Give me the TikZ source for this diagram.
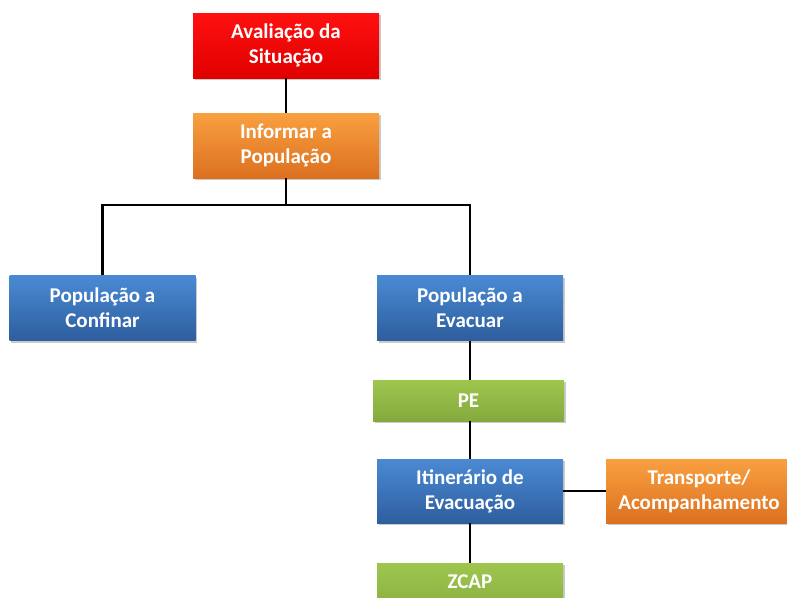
\documentclass[tikz,border=0pt]{standalone}
\usepackage{fontspec}
\setmainfont{Carlito}
\usetikzlibrary{shadows}
\definecolor{redT}{HTML}{FF1010}
\definecolor{redB}{HTML}{E00000}
\definecolor{orT}{HTML}{F9A040}
\definecolor{orB}{HTML}{DC7020}
\definecolor{blT}{HTML}{4A8AD4}
\definecolor{blB}{HTML}{2E5E9E}
\definecolor{grT}{HTML}{9EC64E}
\definecolor{grB}{HTML}{84AA3E}
\tikzset{
  box/.style={rectangle, minimum width=186pt, minimum height=65pt, inner sep=0pt,
    align=center, text=white, font=\bfseries\fontsize{21}{25}\selectfont,
    drop shadow={shadow xshift=1.5pt, shadow yshift=-2pt, opacity=0.35, fill=black!60}},
  redbox/.style={box, top color=redT, bottom color=redB},
  orbox/.style={box, top color=orT, bottom color=orB},
  blbox/.style={box, top color=blT, bottom color=blB},
  grbox/.style={box, top color=grT, bottom color=grB},
  conn/.style={draw=black, line width=2.3pt}
}
\begin{document}
\begin{tikzpicture}[x=1pt,y=-1pt]
\useasboundingbox (0,0) rectangle (787,597);
\clip (0,0) rectangle (787,597);
\node[redbox] (aval) at (286,45.5) {Avaliação da\\Situação};
\node[orbox] (info) at (286,145.5) {Informar a\\População};
\node[blbox] (conf) at (102.5,308) {População a\\Confinar};
\node[blbox] (evac) at (470,308) {População a\\Evacuar};
\node[grbox, minimum width=191pt, minimum height=41pt] (pe) at (468.5,400.5) {PE};
\node[blbox, minimum height=64pt] (itin) at (470,491) {Itinerário de\\Evacuação};
\node[orbox, minimum height=64pt] (trans) at (699,491) {Transporte/\\Acompanhamento};
\node[grbox, minimum height=60pt] (zcap) at (470,593) {};
\node[text=white, font=\bfseries\fontsize{21}{25}\selectfont] (zcaptext) at (470,582) {ZCAP};
\coordinate (split) at (286,205);
\draw[conn] (aval.south) -- (info.north);
\draw[conn] (info.south) -- (split);
\draw[conn] (split) -| (conf.north);
\draw[conn] (split) -| (evac.north);
\draw[conn] (evac.south) -- (evac.south |- pe.north);
\draw[conn] (pe.south -| itin.north) -- (itin.north);
\draw[conn] (itin.east) -- (trans.west);
\draw[conn] (itin.south) -- (zcap.north);
\end{tikzpicture}
\end{document}
